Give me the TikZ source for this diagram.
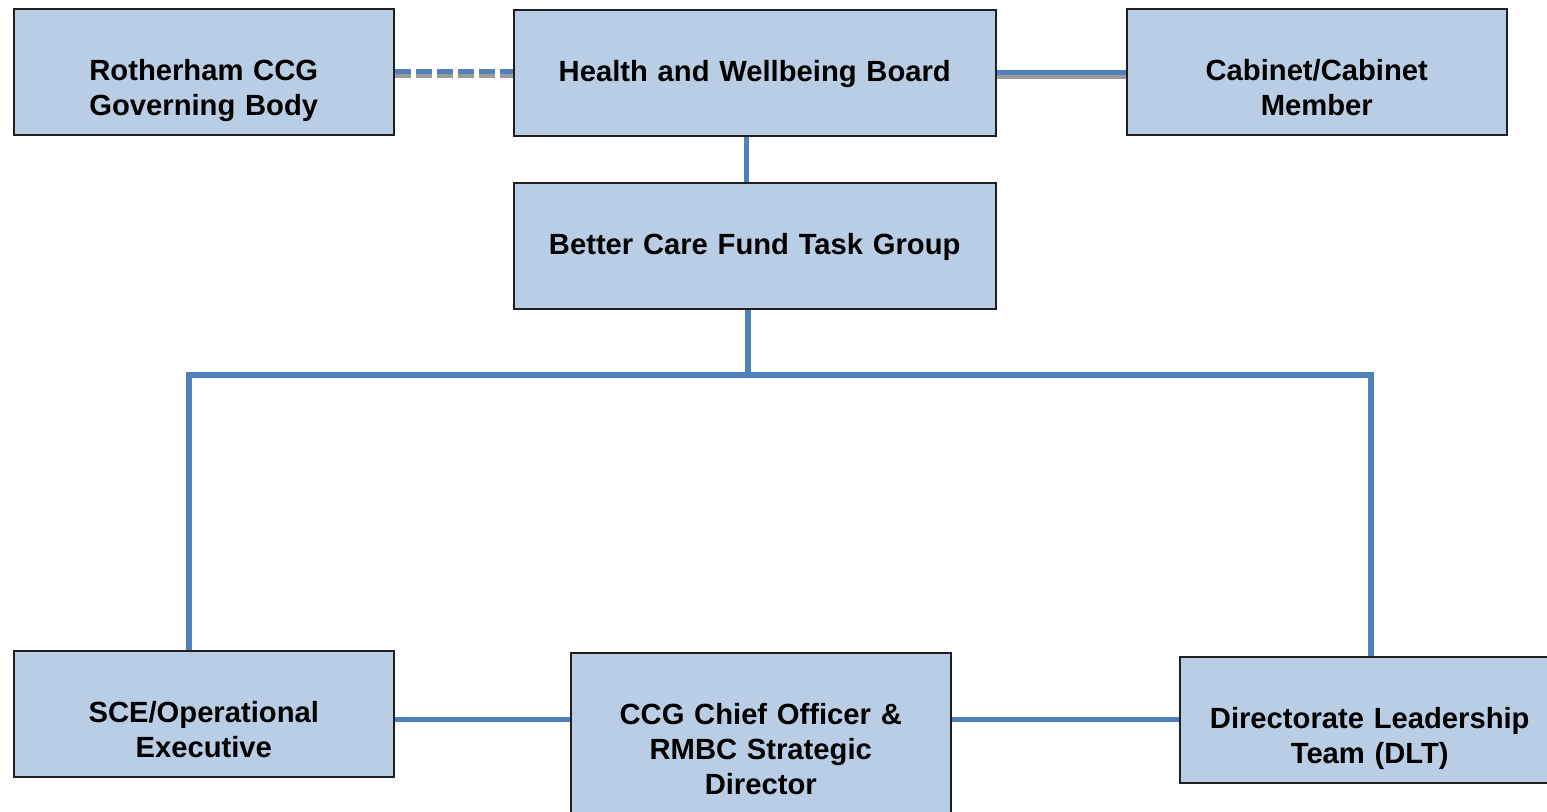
\documentclass[tikz,border=0pt]{standalone}
\usepackage{fontspec}
\setmainfont{Liberation Sans}
\definecolor{linkblue}{HTML}{4F81BD}
\definecolor{boxfill}{HTML}{B9CDE5}
\definecolor{boxline}{HTML}{1F1F1F}
\definecolor{shadowgray}{HTML}{9A9A9A}
\begin{document}
\begin{tikzpicture}[x=0.5pt,y=-0.5pt,
  box/.style={draw=boxline,fill=boxfill,line width=0.75pt,minimum width=190pt,minimum height=63pt,inner sep=0pt,anchor=north west},
  lbl/.style={font=\fontsize{14.6}{17.6}\selectfont\bfseries,align=center,text width=230pt,anchor=base,inner sep=0pt},
  link/.style={draw=linkblue,line width=2.6pt},
  shadowline/.style={draw=shadowgray,line width=1.6pt}
]
\useasboundingbox (0,0) rectangle (1547,811);
\clip (0,0) rectangle (1547,811);

% boxes
\node[box] (rcg) at (13,8) {};
\node[box,minimum width=241pt] (hwb) at (513,9) {};
\node[box] (cab) at (1126,8) {};
\node[box,minimum width=241pt] (bcf) at (513,182) {};
\node[box] (sce) at (13,650) {};
\node[box,minimum height=94pt] (ccg) at (570,652) {};
\node[box] (dlt) at (1179,656) {};

% labels
\node[lbl] (trcg) at ([yshift=-36pt]rcg.north) {Rotherham CCG\\Governing Body};
\node[lbl] (thwb) at ([yshift=-36pt]hwb.north) {Health and Wellbeing Board};
\node[lbl] (tcab) at ([yshift=-36pt]cab.north) {Cabinet/Cabinet\\Member};
\node[lbl] (tbcf) at ([yshift=-36pt]bcf.north) {Better Care Fund Task Group};
\node[lbl] (tsce) at ([yshift=-36pt]sce.north) {SCE/Operational\\Executive};
\node[lbl] (tccg) at ([yshift=-36pt]ccg.north) {CCG Chief Officer \&\\RMBC Strategic\\Director};
\node[lbl] (tdlt) at ([yshift=-36pt]dlt.north) {Directorate Leadership\\Team (DLT)};

% top connectors with shadow
\draw[shadowline,dash pattern=on 8pt off 2.5pt] ([yshift=-2.1pt]rcg.east) -- ([yshift=-2.1pt]rcg.east -| hwb.west);
\draw[link,dash pattern=on 8pt off 2.5pt] (rcg.east) -- (rcg.east -| hwb.west);
\draw[shadowline] ([yshift=-2.1pt]hwb.east) -- ([yshift=-2.1pt]hwb.east -| cab.west);
\draw[link] (hwb.east) -- (hwb.east -| cab.west);

% HWB to BCF
\draw[link] ([xshift=-4pt]hwb.south) -- ([xshift=-4pt]bcf.north);

% tree
\coordinate (j) at (748,375);
\coordinate (lt) at (189,375);
\coordinate (rt) at (1371,375);
\draw[link] (bcf.south -| j) -- (j);
\draw[link,line join=miter] (sce.north -| lt) -- (lt) -- (rt) -- (dlt.north -| rt);

% bottom connectors
\draw[link] ([yshift=-3pt]sce.east) -- ([yshift=-3pt]sce.east -| ccg.west);
\draw[link] (ccg.east |- dlt.west) -- (dlt.west);
\end{tikzpicture}
\end{document}
